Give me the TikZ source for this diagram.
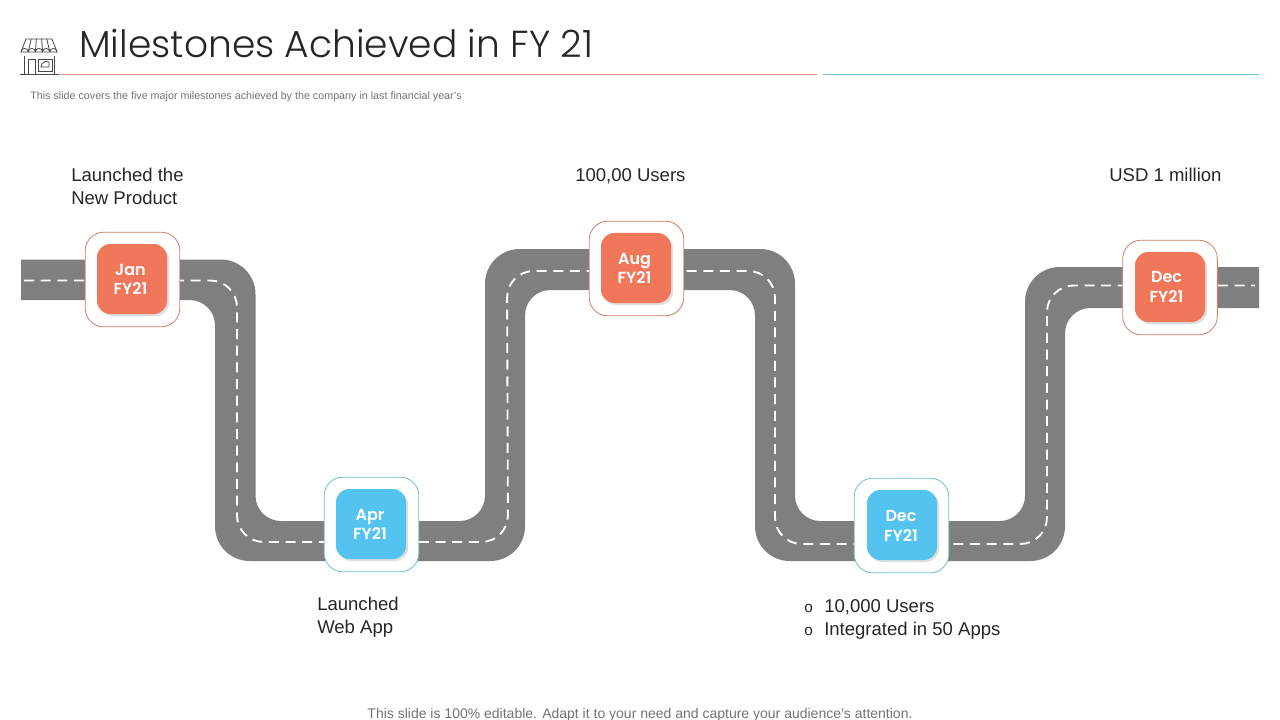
\documentclass[tikz,border=0pt]{standalone}
\usepackage{fontspec}
\setmainfont{Liberation Sans}
\newfontfamily\titlefont{Poppins Light}
\newfontfamily\badgefont{Poppins SemiBold}
\usetikzlibrary{shadows}
\definecolor{roadgrey}{HTML}{7F7F7F}
\definecolor{badgeorange}{HTML}{F1775A}
\definecolor{badgeblue}{HTML}{55C3F0}
\definecolor{ruleorange}{HTML}{E39478}
\definecolor{ruleblue}{HTML}{6CC9DC}
\definecolor{frameorange}{HTML}{D67F66}
\definecolor{frameblue}{HTML}{6DBFD6}
\definecolor{inkdark}{HTML}{262626}
\tikzset{
	outer/.style={rounded corners=26pt},
	inner/.style={rounded corners=19pt},
	roadline/.style={draw=white,line width=1.4pt,dash pattern=on 7.5pt off 5pt,rounded corners=20pt},
	milestoneframe/.style={fill=white,line width=0.6pt,rounded corners=14pt,minimum size=71pt,inner sep=0pt},
	badge/.style={rounded corners=10pt,minimum size=52.5pt,inner sep=0pt,
		drop shadow={shadow xshift=1.5pt,shadow yshift=-1.5pt,fill=black!25,opacity=0.5}},
	badgetext/.style={text=white,inner sep=0pt,align=center,font=\badgefont\fontsize{12}{14.5}\selectfont},
	label/.style={anchor=north west,inner sep=0pt,align=left,text=inkdark,font=\fontsize{13.9}{17.3}\selectfont},
	icon/.style={draw=inkdark!85,line width=0.6pt}
}
\begin{document}
\begin{tikzpicture}[x=0.75pt,y=-0.75pt]
	\useasboundingbox (0,0) rectangle (1280,720);
	% Title
	\node [anchor=west,inner sep=0pt,text=inkdark,font=\titlefont\fontsize{28.2}{32}\selectfont] (title) at (79,44) {Milestones Achieved in FY 21};
	\coordinate (ruleA) at (58,74.5);
	\coordinate (ruleB) at (817,74.5);
	\coordinate (ruleC) at (823,74.5);
	\coordinate (ruleD) at (1259,74.5);
	\draw [ruleorange,line width=0.7pt] (ruleA) -- (ruleB);
	\draw [ruleblue,line width=0.7pt] (ruleC) -- (ruleD);
	\node [anchor=west,inner sep=0pt,text=black!55,font=\fontsize{8.05}{9}\selectfont] (subtitle) at (30,97) {This slide covers the five major milestones achieved by the company in last financial year's};
	% Shop icon
	\draw [icon] (26,39) -- (52,39) -- (57,52) -- (21,52) -- cycle;
	\foreach \i in {1,2,3,4}
		\draw [icon] ({26+\i*5.2},39) -- ({21+\i*7.2},52);
	\foreach \i in {0,1,2,3,4}
		\draw [icon] ({21+\i*7.2},52) arc [start angle=180,end angle=360,radius=3.6];
	\draw [icon] (24,56) -- (24,74);
	\draw [icon] (54,56) -- (54,74);
	\draw [icon,line width=0.8pt] (20,74.5) -- (58,74.5);
	\draw [icon] (28,59) rectangle (35,74);
	\draw [icon] (38,59) rectangle (52,71);
	\draw [icon] (41,67) -- (42,64) -- (45,61.5) -- (49,62) -- (49,67) -- cycle;
	% Road
	\fill [roadgrey] (21,259.5) [outer] -- (255.5,259.5) [inner] -- (255.5,521) -- (485,521) [outer] -- (485,249) -- (795,249) [inner] -- (795,521) -- (1025,521) [outer] -- (1025,267) [sharp corners] -- (1259,267)
		-- (1259,308) [inner] -- (1065,308) [outer] -- (1065,561) -- (755,561) [inner] -- (755,290) -- (525,290) [outer] -- (525,561) -- (215,561) [inner] -- (215,300) [sharp corners] -- (21,300) -- cycle;
	\draw [roadline] (24,280.5) -- (237,280.5) -- (237,542) -- (508,542) -- (507,271) -- (775,271) -- (775,544) -- (1047,544) -- (1047,285.5) -- (1255,285.5);
	% Milestones
	\node [milestoneframe,draw=frameorange] (janframe) at (132.5,279.5) {};
	\node [badge,fill=badgeorange] (janbadge) at (132,279) {};
	\node [badgetext] (jantext) at (130.5,279.5) {Jan\\FY21};
	\node [milestoneframe,draw=frameblue] (aprframe) at (371.5,524.5) {};
	\node [badge,fill=badgeblue] (aprbadge) at (371,524) {};
	\node [badgetext] (aprtext) at (370,524.5) {Apr\\FY21};
	\node [milestoneframe,draw=frameorange] (augframe) at (636.5,268.5) {};
	\node [badge,fill=badgeorange] (augbadge) at (636,268) {};
	\node [badgetext] (augtext) at (634.5,268.5) {Aug\\FY21};
	\node [milestoneframe,draw=frameblue] (decAframe) at (901.5,525.5) {};
	\node [badge,fill=badgeblue] (decAbadge) at (902,525) {};
	\node [badgetext] (decAtext) at (901,526) {Dec\\FY21};
	\node [milestoneframe,draw=frameorange] (decBframe) at (1170,287.5) {};
	\node [badge,fill=badgeorange] (decBbadge) at (1170,287) {};
	\node [badgetext] (decBtext) at (1166.5,287) {Dec\\FY21};
	% Labels
	\node [label] (janlabel) at (71,168) {Launched the\\New Product};
	\node [label] (aprlabel) at (317,597) {Launched\\Web App};
	\node [label] (auglabel) at (575,168) {100,00 Users};
	\node [label] (declabelA) at (804,599) {\makebox[15pt][l]{\fontsize{11.5}{12}\selectfont o}10,000 Users\\\makebox[15pt][l]{\fontsize{11.5}{12}\selectfont o}Integrated in 50 Apps};
	\node [label] (declabelB) at (1109,168) {USD 1 million};
	% Footer
	\node [anchor=center,inner sep=0pt,text=black!55,font=\fontsize{10.5}{12}\selectfont] (footer) at (640,715) {This slide is 100\% editable. Adapt it to your need and capture your audience's attention.};
\end{tikzpicture}
\end{document}
